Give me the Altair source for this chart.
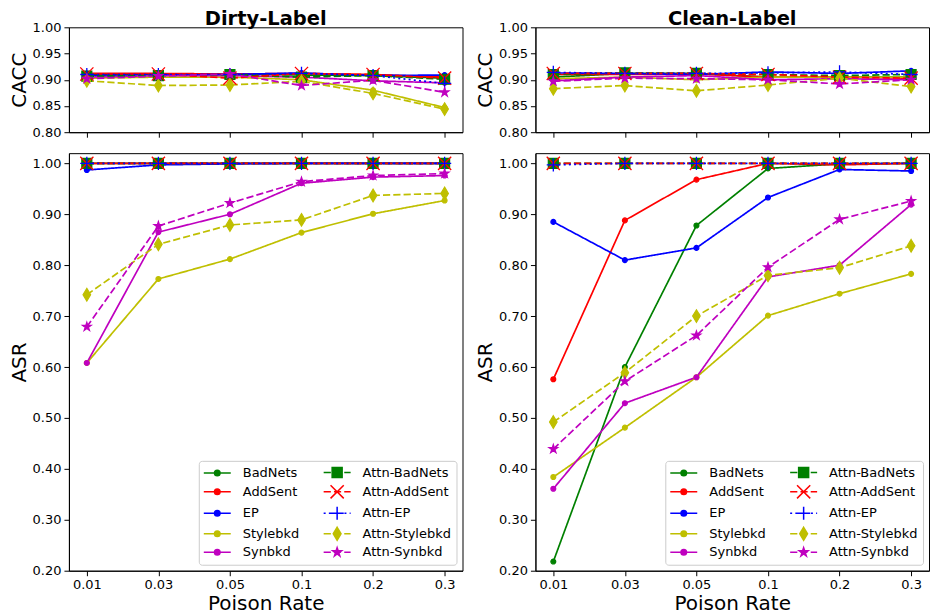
import math
import altair as alt
import pandas as pd

# ---------------- data ----------------
rates = ["0.01", "0.03", "0.05", "0.1", "0.2", "0.3"]
series = ["BadNets", "AddSent", "EP", "Stylebkd", "Synbkd",
          "Attn-BadNets", "Attn-AddSent", "Attn-EP", "Attn-Stylebkd", "Attn-Synbkd"]

dirty_cacc = {
    "BadNets":       [0.910, 0.910, 0.911, 0.909, 0.908, 0.903],
    "AddSent":       [0.912, 0.912, 0.911, 0.912, 0.910, 0.905],
    "EP":            [0.908, 0.909, 0.910, 0.913, 0.908, 0.909],
    "Stylebkd":      [0.903, 0.905, 0.905, 0.900, 0.880, 0.847],
    "Synbkd":        [0.905, 0.908, 0.908, 0.905, 0.898, 0.894],
    "Attn-BadNets":  [0.907, 0.908, 0.910, 0.905, 0.908, 0.901],
    "Attn-AddSent":  [0.911, 0.911, 0.903, 0.912, 0.910, 0.903],
    "Attn-EP":       [0.910, 0.910, 0.910, 0.912, 0.908, 0.893],
    "Attn-Stylebkd": [0.898, 0.889, 0.890, 0.897, 0.874, 0.844],
    "Attn-Synbkd":   [0.902, 0.907, 0.911, 0.889, 0.899, 0.876],
}
clean_cacc = {
    "BadNets":       [0.905, 0.912, 0.912, 0.905, 0.905, 0.905],
    "AddSent":       [0.910, 0.910, 0.911, 0.905, 0.905, 0.903],
    "EP":            [0.913, 0.912, 0.910, 0.915, 0.912, 0.917],
    "Stylebkd":      [0.902, 0.905, 0.900, 0.905, 0.905, 0.905],
    "Synbkd":        [0.898, 0.905, 0.908, 0.900, 0.902, 0.900],
    "Attn-BadNets":  [0.910, 0.913, 0.912, 0.910, 0.908, 0.910],
    "Attn-AddSent":  [0.912, 0.912, 0.912, 0.910, 0.905, 0.903],
    "Attn-EP":       [0.914, 0.912, 0.912, 0.913, 0.915, 0.910],
    "Attn-Stylebkd": [0.883, 0.889, 0.879, 0.890, 0.903, 0.887],
    "Attn-Synbkd":   [0.897, 0.903, 0.902, 0.900, 0.892, 0.900],
}
dirty_asr = {
    "BadNets":       [1.000, 1.000, 1.000, 1.000, 1.000, 1.000],
    "AddSent":       [1.000, 1.000, 1.000, 1.000, 1.000, 1.000],
    "EP":            [0.987, 0.997, 0.999, 1.000, 1.000, 1.000],
    "Stylebkd":      [0.608, 0.773, 0.812, 0.864, 0.901, 0.927],
    "Synbkd":        [0.608, 0.865, 0.900, 0.961, 0.973, 0.976],
    "Attn-BadNets":  [1.000, 1.000, 1.000, 1.000, 1.000, 1.000],
    "Attn-AddSent":  [1.000, 1.000, 1.000, 1.000, 1.000, 1.000],
    "Attn-EP":       [1.000, 1.000, 1.000, 1.000, 1.000, 1.000],
    "Attn-Stylebkd": [0.742, 0.841, 0.879, 0.889, 0.937, 0.941],
    "Attn-Synbkd":   [0.679, 0.877, 0.922, 0.964, 0.976, 0.980],
}
clean_asr = {
    "BadNets":       [0.218, 0.600, 0.878, 0.990, 0.999, 1.000],
    "AddSent":       [0.576, 0.888, 0.968, 1.000, 0.997, 1.000],
    "EP":            [0.885, 0.810, 0.834, 0.933, 0.988, 0.985],
    "Stylebkd":      [0.384, 0.481, 0.580, 0.701, 0.744, 0.783],
    "Synbkd":        [0.361, 0.529, 0.580, 0.777, 0.800, 0.919],
    "Attn-BadNets":  [1.000, 1.000, 1.000, 1.000, 1.000, 1.000],
    "Attn-AddSent":  [1.000, 1.000, 1.000, 1.000, 1.000, 1.000],
    "Attn-EP":       [0.997, 1.000, 1.000, 1.000, 1.000, 1.000],
    "Attn-Stylebkd": [0.492, 0.589, 0.700, 0.780, 0.795, 0.838],
    "Attn-Synbkd":   [0.439, 0.572, 0.662, 0.796, 0.890, 0.926],
}

cacc_ticks = [0.80, 0.85, 0.90, 0.95, 1.00]
asr_ticks = [0.20, 0.30, 0.40, 0.50, 0.60, 0.70, 0.80, 0.90, 1.00]

# ---------------- styles ----------------
FONT = "DejaVu Sans"
G, R, B, Y, M = "#008000", "#ff0000", "#0000ff", "#bfbf00", "#bf00bf"
colors = {"BadNets": G, "AddSent": R, "EP": B, "Stylebkd": Y, "Synbkd": M,
          "Attn-BadNets": G, "Attn-AddSent": R, "Attn-EP": B, "Attn-Stylebkd": Y, "Attn-Synbkd": M}
DASHED = [7.2, 3.1]
DOTTED = [2.0, 3.2]
dashes = {s: [1, 0] for s in series}
for s in ["Attn-BadNets", "Attn-AddSent", "Attn-Stylebkd", "Attn-Synbkd"]:
    dashes[s] = DASHED
dashes["Attn-EP"] = DOTTED

legend_order = series  # legend fills column by column


def fmt(v):
    s = "%.3f" % v
    s = s.rstrip("0").rstrip(".")
    return "0" if s in ("-0", "") else s


def circle_path(r):
    return "M%s,0A%s,%s 0 1,1 %s,0A%s,%s 0 1,1 %s,0Z" % (fmt(-r), fmt(r), fmt(r), fmt(r), fmt(r), fmt(r), fmt(-r))


def square_path(h):
    return "M%s,%sL%s,%sL%s,%sL%s,%sZ" % (fmt(-h), fmt(-h), fmt(h), fmt(-h), fmt(h), fmt(h), fmt(-h), fmt(h))


def x_path(h):
    return "M%s,%sL%s,%sM%s,%sL%s,%s" % (fmt(-h), fmt(-h), fmt(h), fmt(h), fmt(-h), fmt(h), fmt(h), fmt(-h))


def plus_path(h):
    return "M%s,0L%s,0M0,%sL0,%s" % (fmt(-h), fmt(h), fmt(-h), fmt(h))


def diamond_path(h, w):
    return "M0,%sL%s,0L0,%sL%s,0Z" % (fmt(-h), fmt(w), fmt(h), fmt(-w))


def star_path(r):
    pts = []
    for k in range(10):
        a = math.radians(-90 + 36 * k)
        rr = r if k % 2 == 0 else r * 0.382
        pts.append("%s,%s" % (fmt(rr * math.cos(a)), fmt(rr * math.sin(a))))
    return "M" + "L".join(pts) + "Z"


def dash_line(pattern, half, unit):
    """Handle line from -half..half px, expressed in legend-symbol units."""
    L = half / unit
    if pattern == [1, 0]:
        return "M%s,0L%s,0" % (fmt(-L), fmt(L))
    on, off = pattern[0] / unit, pattern[1] / unit
    x = -L
    out = ""
    while x < L:
        x2 = min(L, x + on)
        out += "M%s,0L%s,0" % (fmt(x), fmt(x2))
        x = x2 + off
    return out


# markers for the plotted points: (shape, size, filled)
marker = {s: ("circle", 24, True) for s in ["BadNets", "AddSent", "EP", "Stylebkd", "Synbkd"]}
marker["Attn-BadNets"] = ("square", 100, True)
marker["Attn-AddSent"] = (x_path(1), 175, False)
marker["Attn-EP"] = (plus_path(1), 175, False)
marker["Attn-Stylebkd"] = (diamond_path(1, 0.6), 160, True)
marker["Attn-Synbkd"] = (star_path(1), 85, True)

# legend symbols: handle line + marker in one path
LEG_SIZE = 100              # symbol box of 10 px -> 1 unit = 5 px
U = math.sqrt(LEG_SIZE) / 2
HALF = 13.5                 # half handle length in px
leg_marker = {s: circle_path(2.8 / U) for s in ["BadNets", "AddSent", "EP", "Stylebkd", "Synbkd"]}
leg_marker["Attn-BadNets"] = square_path(5.0 / U)
leg_marker["Attn-AddSent"] = x_path(6.6 / U)
leg_marker["Attn-EP"] = plus_path(6.6 / U)
leg_marker["Attn-Stylebkd"] = diamond_path(6.5 / U, 3.9 / U)
leg_marker["Attn-Synbkd"] = star_path(4.6 / U)
leg_paths = [dash_line(dashes[s], HALF, U) + leg_marker[s] for s in legend_order]

names_js = "[" + ",".join("'%s'" % s for s in legend_order) + "]"
paths_js = "[" + ",".join("'%s'" % p for p in leg_paths) + "]"
cols_js = "[" + ",".join("'%s'" % colors[s] for s in legend_order) + "]"
shape_expr = "%s[indexof(%s, datum.value)]" % (paths_js, names_js)
color_expr = "%s[indexof(%s, datum.value)]" % (cols_js, names_js)

PLOT_W = 394
CACC_H = 105
ASR_H = 418


def make_legend():
    return alt.Legend(
        title=None, orient="bottom-right", offset=6, columns=2,
        columnPadding=21, rowPadding=0.5,
        symbolSize=LEG_SIZE, symbolOffset=7, labelOffset=19, symbolStrokeWidth=1.5,
        symbolType=alt.ExprRef(expr=shape_expr),
        symbolStrokeColor=alt.ExprRef(expr=color_expr),
        symbolOpacity=1,
        labelFont=FONT, labelFontSize=13, labelColor="black",
        strokeColor="#cccccc", fillColor="rgba(255,255,255,0.8)", cornerRadius=3, padding=5,
    )


def panel(vals, ydom, yticks, ytitle, bottom, legend, title=None):
    rows = []
    for s in series:
        for r, v in zip(rates, vals[s]):
            rows.append({"rate": r, "series": s, "value": v})
    df = pd.DataFrame(rows)

    x = alt.X("rate:N", sort=rates,
              scale=alt.Scale(type="point", padding=0.25, domain=rates),
              axis=alt.Axis(title="Poison Rate" if bottom else None, labels=bottom, labelAngle=0))
    y = alt.Y("value:Q", scale=alt.Scale(domain=ydom, nice=False, zero=False),
              axis=alt.Axis(values=yticks, format=".2f", title=ytitle))

    layers = []
    for s in series:
        layers.append(
            alt.Chart().mark_line(strokeWidth=1.7, color=colors[s], strokeDash=dashes[s], clip=True)
            .transform_filter(alt.datum.series == s).encode(x=x, y=y)
        )
    for s in series:
        shp, size, filled = marker[s]
        if filled:
            mk = alt.Chart().mark_point(shape=shp, size=size, filled=True, fill=colors[s],
                                        stroke=colors[s], strokeWidth=1.2, opacity=1, clip=True)
        else:
            mk = alt.Chart().mark_point(shape=shp, size=size, filled=False, stroke=colors[s],
                                        strokeWidth=1.3, opacity=1, clip=True)
        layers.append(mk.transform_filter(alt.datum.series == s).encode(x=x, y=y))
    if legend:
        layers.append(
            alt.Chart().mark_point(filled=True, opacity=0).encode(
                x=x, y=y,
                color=alt.Color("series:N", sort=legend_order,
                                scale=alt.Scale(domain=legend_order,
                                                range=[colors[s] for s in legend_order]),
                                legend=make_legend()),
            )
        )

    props = dict(width=PLOT_W, height=ASR_H if bottom else CACC_H)
    if title is not None:
        props["title"] = alt.Title(title, fontSize=19.5, fontWeight="bold", font=FONT, color="black",
                                   anchor="middle", frame="group", offset=-8.3)
    return alt.layer(*layers, data=df).properties(**props)


left = alt.vconcat(
    panel(dirty_cacc, [0.8, 1.0], cacc_ticks, "CACC", False, False, "Dirty-Label"),
    panel(dirty_asr, [0.2, 1.02], asr_ticks, "ASR", True, True),
    spacing=12,
).resolve_scale(y="independent", color="independent").resolve_legend(color="independent")

right = alt.vconcat(
    panel(clean_cacc, [0.8, 1.0], cacc_ticks, "CACC", False, False, "Clean-Label"),
    panel(clean_asr, [0.2, 1.02], asr_ticks, "ASR", True, True),
    spacing=12,
).resolve_scale(y="independent", color="independent").resolve_legend(color="independent")

chart = alt.hconcat(left, right, spacing=11).resolve_scale(
    y="independent", color="independent"
).resolve_legend(color="independent").properties(padding=0)

chart = chart.configure(font=FONT).configure_view(
    stroke="black", strokeWidth=1
).configure_axis(
    labelFont=FONT, labelFontSize=13, labelColor="black",
    titleFont=FONT, titleFontSize=20, titleFontWeight="normal", titleColor="black",
    tickColor="black", tickSize=5, tickWidth=1, domainColor="black", domainWidth=1,
    grid=False, labelPadding=3,
).configure_axisX(titlePadding=2).configure_axisY(titlePadding=3)

chart.save("out.html", embed_options={"renderer": "svg", "actions": False})
